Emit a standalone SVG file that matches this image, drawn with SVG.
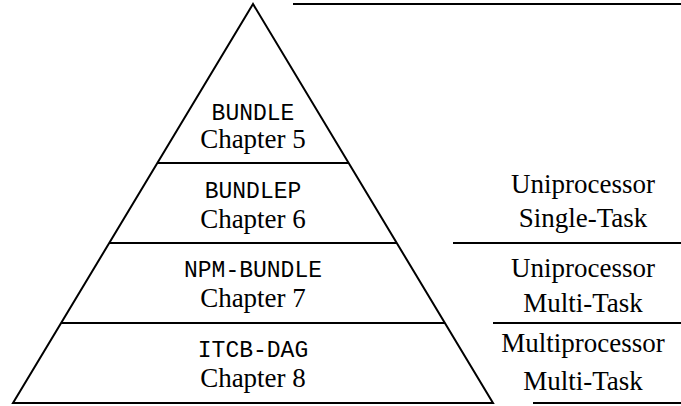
<svg xmlns="http://www.w3.org/2000/svg" width="681" height="406" viewBox="0 0 681 406">
<style>
.ln{stroke:#000;stroke-width:2;fill:none;stroke-linejoin:miter}
.mono{font-family:"Liberation Mono","DejaVu Sans Mono",monospace;font-size:23px;text-anchor:middle;fill:#000}
.serif{font-family:"Liberation Serif","DejaVu Serif",serif;font-size:27px;text-anchor:middle;fill:#000}
</style>
<rect width="681" height="406" fill="#fff"/>
<g id="connectors">
<polygon class="ln" points="253,4 13,403 493,403"/>
<line class="ln" x1="157" y1="163" x2="349" y2="163"/>
<line class="ln" x1="109" y1="243" x2="397" y2="243"/>
<line class="ln" x1="61" y1="323" x2="445" y2="323"/>
<line class="ln" x1="293" y1="4" x2="681" y2="4"/>
<line class="ln" x1="453" y1="243" x2="681" y2="243"/>
<line class="ln" x1="493" y1="323" x2="681" y2="323"/>
<line class="ln" x1="533" y1="403" x2="681" y2="403"/>
</g>
<g id="bundle"><text class="mono" x="253" y="120">BUNDLE</text><text class="serif" x="253" y="148">Chapter 5</text></g>
<g id="bundlep"><text class="mono" x="253" y="198">BUNDLEP</text><text class="serif" x="253" y="228">Chapter 6</text></g>
<g id="npm-bundle"><text class="mono" x="253" y="277">NPM-BUNDLE</text><text class="serif" x="253" y="307">Chapter 7</text></g>
<g id="itcb-dag"><text class="mono" x="253" y="357">ITCB-DAG</text><text class="serif" x="253" y="387">Chapter 8</text></g>
<g id="uni-single"><text class="serif" x="583" y="193">Uniprocessor</text><text class="serif" x="583" y="227">Single-Task</text></g>
<g id="uni-multi"><text class="serif" x="583" y="277">Uniprocessor</text><text class="serif" x="583" y="312">Multi-Task</text></g>
<g id="multi-multi"><text class="serif" x="583" y="352">Multiprocessor</text><text class="serif" x="583" y="390">Multi-Task</text></g>
</svg>
